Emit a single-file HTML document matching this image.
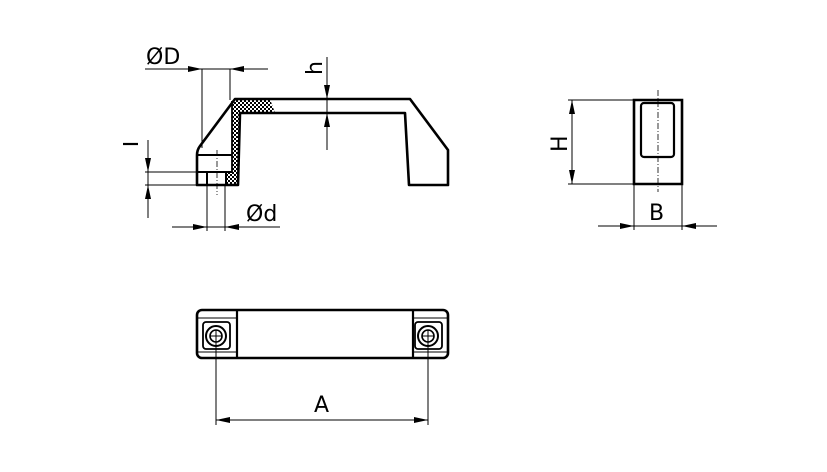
<!DOCTYPE html>
<html><head><style>body{margin:0;background:#fff}svg{display:block}text{font-family:"DejaVu Sans","Liberation Sans",sans-serif;fill:#000}</style></head><body>
<svg width="827" height="472" viewBox="0 0 827 472" xmlns="http://www.w3.org/2000/svg">
<defs>
<pattern id="h" width="4" height="4" patternUnits="userSpaceOnUse"><rect width="4" height="4" fill="#fff"/><rect width="2" height="2" fill="#000"/><rect x="2" y="2" width="2" height="2" fill="#000"/></pattern>
</defs>
<g fill="none" stroke="#000">
<path d="M233,99 L270,99 L275,113 L240,113 L238,185 L226,185 L226,172 L232,172 L232,102 Z" fill="url(#h)" stroke="none"/>
<path d="M235,99 L410,99 L448,150 L448,185 L409,185 L405,113 L240,113 L238,185 L197,185 L197,155 Q197,150 200,146 Z" stroke-width="2.6" stroke-linejoin="round"/>
<path d="M232,101 L232,172" stroke-width="1.8"/>
<path d="M197,155 L232,155 M197,172 L232,172 M207,172 L207,185 M226,172 L226,185" stroke-width="2"/>
<path d="M217,150 L217,195" stroke-width="0.8" stroke-dasharray="6,2,1,2"/>
<g stroke-width="1">
<path d="M202,69 L202,148 M230,69 L230,100"/>
<path d="M145,69 L268,69"/>
<path d="M327,57 L327,150"/>
<path d="M145,172 L197,172 M145,185 L197,185"/>
<path d="M148,140 L148,218"/>
<path d="M207,185 L207,231 M225,185 L225,231"/>
<path d="M172,227 L280,227"/>
</g>
<path d="M634,100 L682,100 L682,184 L634,184 Z" stroke-width="2.6"/>
<rect x="641" y="103" width="33" height="54" rx="3" stroke-width="2.2"/>
<path d="M658,90 L658,192" stroke-width="0.8" stroke-dasharray="6,2,1,2"/>
<g stroke-width="1">
<path d="M568,100 L634,100 M568,184 L634,184"/>
<path d="M572,100 L572,184"/>
<path d="M634,184 L634,230 M682,184 L682,230"/>
<path d="M598,226 L717,226"/>
</g>
<rect x="197" y="310" width="251" height="48" rx="5" stroke-width="2.6"/>
<path d="M237,310 L237,358 M413,310 L413,358" stroke-width="2.2"/>
<path d="M197,318 L237,318 M197,352 L237,352 M413,318 L448,318 M413,352 L448,352" stroke-width="1"/>
<rect x="203" y="322" width="27" height="27" rx="3" stroke-width="1.8"/>
<rect x="415" y="322" width="27" height="27" rx="3" stroke-width="1.8"/>
<circle cx="216" cy="336" r="10" stroke-width="2"/><circle cx="216" cy="336" r="6" stroke-width="1.6"/>
<circle cx="428" cy="336" r="10" stroke-width="2"/><circle cx="428" cy="336" r="6" stroke-width="1.6"/>
<path d="M210,336 L222,336 M216,330 L216,342 M422,336 L434,336 M428,330 L428,342" stroke-width="1"/>
<g stroke-width="1">
<path d="M216,342 L216,425 M428,342 L428,425"/>
<path d="M216,420 L428,420"/>
</g>
</g>
<g fill="#000">
<path d="M188,66 L202,69 L188,72z M244,66 L230,69 L244,72z"/>
<path d="M324,85 L327,99 L330,85z M324,127 L327,113 L330,127z"/>
<path d="M145,158 L148,172 L151,158z M145,199 L148,185 L151,199z"/>
<path d="M193,224 L207,227 L193,230z M239,224 L225,227 L239,230z"/>
<path d="M569,114 L572,100 L575,114z M569,170 L572,184 L575,170z"/>
<path d="M620,223 L634,226 L620,229z M696,223 L682,226 L696,229z"/>
<path d="M230,417 L216,420 L230,423z M414,417 L428,420 L414,423z"/>
</g>
<text x="146" y="64" font-size="22">ØD</text>
<text x="246" y="221" font-size="22">Ød</text>
<text x="649" y="220" font-size="22">B</text>
<text x="314" y="412" font-size="22">A</text>
<text transform="translate(322,75) rotate(-90)" font-size="22">h</text>
<text transform="translate(567,152) rotate(-90)" font-size="22">H</text>
<path d="M123,144 L138,144" stroke="#000" stroke-width="2.2"/>
</svg>
</body></html>
